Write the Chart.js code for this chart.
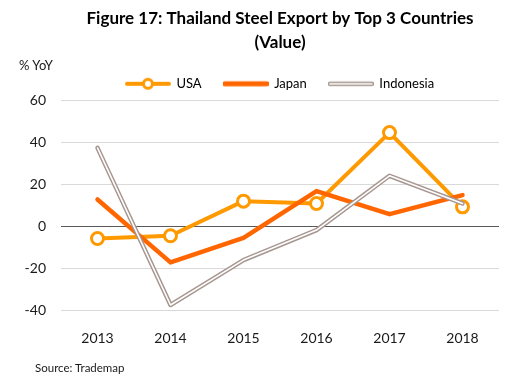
<!DOCTYPE html>
<html>
<head>
<meta charset="utf-8">
<script src="https://cdn.jsdelivr.net/npm/chart.js@4.4.1/dist/chart.umd.min.js"></script>
<style>
  html, body { margin: 0; padding: 0; background: #fff; }
  #wrap { position: relative; width: 508px; height: 385px; }
  .note { position: absolute; font-family: Lato, sans-serif; color: #1a1a1a; white-space: nowrap; }
  #unit { left: 19px; top: 57px; font-size: 13px; }
  #source { left: 35px; top: 361px; font-size: 11.5px; }
</style>
</head>
<body>
<div id="wrap">
  <canvas id="chart" width="508" height="385"></canvas>
  <div id="unit" class="note">% YoY</div>
  <div id="source" class="note">Source: Trademap</div>
</div>
<script>
// dados
const years = ['2013', '2014', '2015', '2016', '2017', '2018'];
const usa = [-5.9, -4.6, 11.9, 10.8, 44.6, 9.2];
const japan = [12.7, -17.3, -5.6, 16.7, 5.7, 14.8];
const indonesia = [37.3, -37.6, -16.2, -1.9, 24.0, 10.8];
const yTicks = [-40, -20, 0, 20, 40, 60];

const ORANGE = '#ff9900';
const DARK_ORANGE = '#ff6600';
const MAUVE = '#a6968f';

// amostras desenhadas para a legenda
function sample(kind) {
    const c = document.createElement('canvas');
    c.width = 46; c.height = 14;
    const g = c.getContext('2d');
    g.lineCap = 'round';
    const line = (color, w) => {
        g.strokeStyle = color; g.lineWidth = w;
        g.beginPath(); g.moveTo(2, 7); g.lineTo(44, 7); g.stroke();
    };
    if (kind === 'usa') {
        line(ORANGE, 4);
        g.beginPath(); g.arc(23, 7, 4.5, 0, Math.PI * 2);
        g.fillStyle = '#fff'; g.fill();
        g.strokeStyle = ORANGE; g.lineWidth = 3; g.stroke();
    } else if (kind === 'japan') {
        line(DARK_ORANGE, 5);
    } else {
        line(MAUVE, 4.5);
        line('#fff', 1.6);
    }
    return c;
}
const legendItems = [
    { text: 'USA', style: sample('usa'), ds: 0 },
    { text: 'Japan', style: sample('japan'), ds: 1 },
    { text: 'Indonesia', style: sample('indo'), ds: 2 }
];

const lineBase = { tension: 0, fill: false, borderCapStyle: 'round', borderJoinStyle: 'round' };

new Chart(document.getElementById('chart'), {
    type: 'line',
    data: {
        labels: years,
        datasets: [
            { ...lineBase, label: 'USA', data: usa, borderColor: ORANGE, borderWidth: 4,
              pointRadius: 6, pointBorderWidth: 3, pointBackgroundColor: '#fff', pointBorderColor: ORANGE, order: 4 },
            { ...lineBase, label: 'Japan', data: japan, borderColor: DARK_ORANGE, borderWidth: 4.5,
              pointRadius: 0, order: 3 },
            { ...lineBase, label: 'Indonesia', data: indonesia, borderColor: MAUVE, borderWidth: 4.5,
              pointRadius: 0, order: 2 },
            { ...lineBase, label: 'Indonesia inner', data: indonesia, borderColor: '#fff', borderWidth: 1.6,
              pointRadius: 0, order: 1 }
        ]
    },
    options: {
        responsive: false,
        animation: false,
        events: [],
        layout: { padding: { top: 0, left: 0, right: 1, bottom: 35 } },
        plugins: {
            tooltip: { enabled: false },
            title: {
                display: true,
                fullSize: false,
                text: ['Figure 17: Thailand Steel Export by Top 3 Countries', '(Value)'],
                color: '#000',
                font: { family: 'Lato', size: 17, weight: 'bold', lineHeight: 1.45 },
                padding: { top: 6, bottom: 0 }
            },
            legend: {
                display: true,
                fullSize: false,
                labels: {
                    usePointStyle: true,
                    pointStyleWidth: 44,
                    padding: 22,
                    color: '#1a1a1a',
                    font: { family: 'Lato', size: 13 },
                    generateLabels: () => legendItems.map(it => ({
                        text: it.text,
                        pointStyle: it.style,
                        fillStyle: 'transparent',
                        strokeStyle: 'transparent',
                        lineWidth: 0,
                        hidden: false,
                        datasetIndex: it.ds
                    }))
                }
            }
        },
        scales: {
            x: {
                offset: true,
                grid: { display: false },
                border: { display: false },
                ticks: { color: '#1a1a1a', font: { family: 'Lato', size: 14 }, padding: 12 },
                afterFit: s => { s.height = 40; }
            },
            y: {
                min: -40,
                max: 60,
                afterBuildTicks: s => { s.ticks = yTicks.map(v => ({ value: v })); },
                grid: {
                    drawTicks: false,
                    color: c => c.tick && c.tick.value === 0 ? '#595959' : '#d9d9d9',
                    lineWidth: 1
                },
                border: { display: false },
                ticks: { color: '#1a1a1a', font: { family: 'Lato', size: 14 }, padding: 15 },
                afterFit: s => { s.width = 61; }
            }
        }
    }
});
</script>
</body>
</html>
